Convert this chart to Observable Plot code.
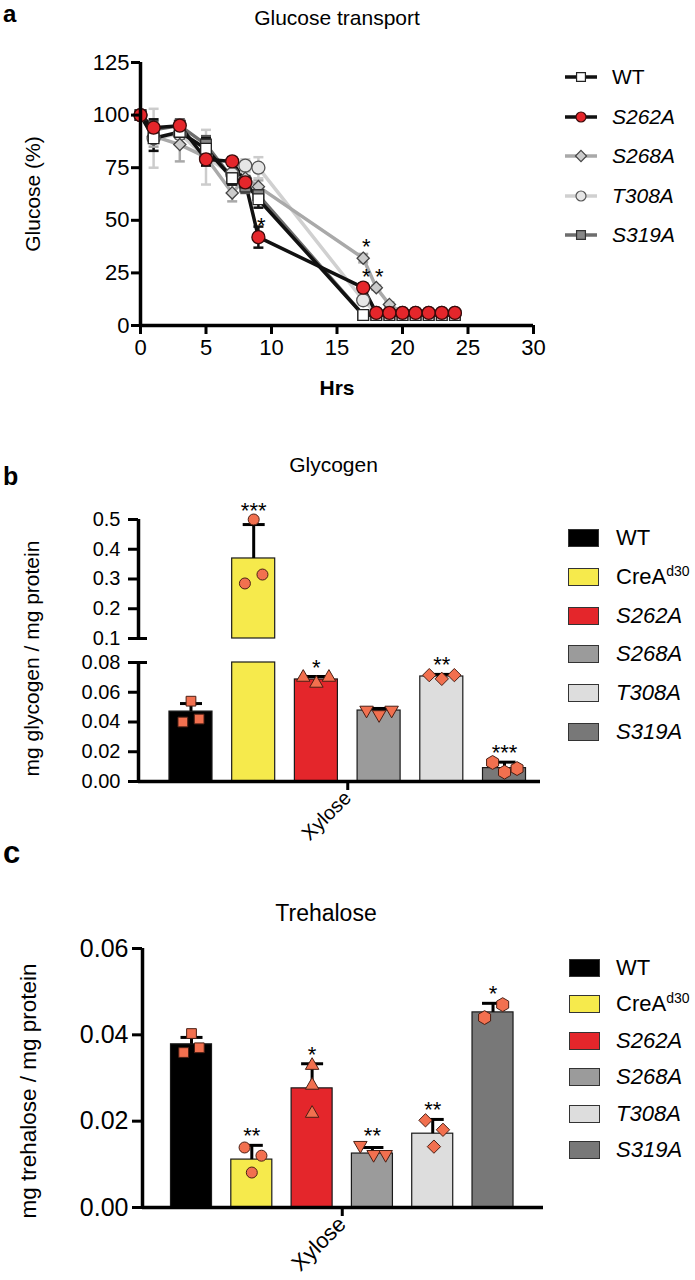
<!DOCTYPE html>
<html><head><meta charset="utf-8">
<script src="https://cdn.jsdelivr.net/npm/d3@7"></script>
<script src="https://cdn.jsdelivr.net/npm/@observablehq/plot@0.6"></script>
<style>
body{margin:0;background:#fff;}
#root{position:relative;width:695px;height:1280px;font-family:"Liberation Sans",Arial,Helvetica,sans-serif;color:#000;overflow:hidden;background:#fff}
.abs{position:absolute;white-space:nowrap;line-height:1.2}
.letter{font-weight:bold}
.legend{position:absolute;z-index:2}
.row{display:flex;align-items:center}
.sw{box-sizing:border-box;border:1.2px solid #333;width:31px;height:18px}
sup{font-size:14px;vertical-align:8px;line-height:0}
</style></head><body><div id="root"></div>
<script>
const FONT = '"Liberation Sans", Arial, Helvetica, sans-serif';

// ---------- Panel a: Glucose transport ----------
const hours = [0, 1, 3, 5, 7, 8, 9, 17, 18, 19, 20, 21, 22, 23, 24];
const wtGlucose    = [100, 89, 92, 84, 70, 68, 60, 5, 5, 5, 5, 5, 5, 5, 5];
const s262aGlucose = [100, 94, 95, 79, 78, 68, 42, 18, 6, 6, 6, 6, 6, 6, 6];
const s268aGlucose = [100, 90, 86, 80, 63, 70, 66, 32, 18, 10, 6, 6, 6, 6, 6];
const t308aGlucose = [100, 89, 91, 80, 72, 76, 75, 12, 6, 6, 6, 6, 6, 6, 6];
const s319aGlucose = [100, 93, 95, 86, 70, 66, 62, 5, 5, 5, 5, 5, 5, 5, 5];
const wtGlucoseErr    = [0, 6, 3, 5, 3, 3, 4, 1, 0, 0, 0, 0, 0, 0, 0];
const s262aGlucoseErr = [0, 4, 2, 3, 2, 3, 5, 2, 1, 0, 0, 0, 0, 0, 0];
const s268aGlucoseErr = [0, 5, 8, 4, 4, 3, 3, 2, 1, 1, 0, 0, 0, 0, 0];
const t308aGlucoseErr = [0, 14, 5, 13, 4, 3, 5, 2, 1, 0, 0, 0, 0, 0, 0];
const s319aGlucoseErr = [0, 4, 3, 4, 3, 3, 4, 1, 0, 0, 0, 0, 0, 0, 0];
const glucoseSeries = ["WT", "S262A", "S268A", "T308A", "S319A"];
const glucoseTicksY = [0, 25, 50, 75, 100, 125];
const glucoseTicksX = [0, 5, 10, 15, 20, 25, 30];
const sigSeriesA = ["S262A", "S268A", "S262A", "S268A"];
const sigHourA = [9, 17, 17, 18];
const sigTextA = ["*", "*", "*", "*"];

// ---------- Panel b: Glycogen ----------
const strains = ["WT", "CreA", "S262A", "S268A", "T308A", "S319A"];
const glycogenMean = [0.047, 0.369, 0.0686, 0.0477, 0.0706, 0.0090];
const glycogenSD   = [0.0054, 0.114, 0.0020, 0.0014, 0.0014, 0.0040];
const glycogenReps = [[0.040, 0.054, 0.042], [0.285, 0.500, 0.315], [0.070, 0.066, 0.070],
                      [0.048, 0.045, 0.048], [0.0715, 0.069, 0.0715], [0.0128, 0.0063, 0.0087]];
const glycogenSig = ["", "***", "*", "", "**", "***"];
const glycogenTicksLow = [0, 0.02, 0.04, 0.06, 0.08];
const glycogenTicksHigh = [0.1, 0.2, 0.3, 0.4, 0.5];
const groupLabel = "Xylose";

// ---------- Panel c: Trehalose ----------
const trehaloseMean = [0.0378, 0.0111, 0.0276, 0.0125, 0.0171, 0.0452];
const trehaloseSD   = [0.0016, 0.0033, 0.0057, 0.0014, 0.0033, 0.0021];
const trehaloseReps = [[0.0359, 0.0403, 0.0370], [0.0139, 0.0081, 0.0120], [0.0329, 0.0283, 0.0218],
                       [0.0144, 0.0123, 0.0123], [0.0202, 0.0141, 0.0180], [0.0440, 0.0470]];
const trehaloseSig = ["", "**", "*", "**", "**", "*"];
const trehaloseTicks = [0, 0.02, 0.04, 0.06];

// ---------- styles ----------
const styleA = {
  WT:    {line: "#111111", fill: "#ffffff", stroke: "#222222", symbol: "square", r: 6, err: "#111111"},
  S262A: {line: "#111111", fill: "#e5262b", stroke: "#3a0a0a", symbol: "circle", r: 6.5, err: "#111111"},
  S268A: {line: "#a9a9a9", fill: "#cbcbcb", stroke: "#444444", symbol: "diamond2", r: 5.5, err: "#a9a9a9"},
  T308A: {line: "#d0d0d0", fill: "#e6e6e6", stroke: "#555555", symbol: "circle", r: 6.5, err: "#cccccc"},
  S319A: {line: "#6d6d6d", fill: "#878787", stroke: "#333333", symbol: "square", r: 6, err: "#555555"}
};
const drawOrderA = ["T308A", "S268A", "S319A", "WT", "S262A"];
const glucose = {WT: wtGlucose, S262A: s262aGlucose, S268A: s268aGlucose, T308A: t308aGlucose, S319A: s319aGlucose};
const glucoseErr = {WT: wtGlucoseErr, S262A: s262aGlucoseErr, S268A: s268aGlucoseErr, T308A: t308aGlucoseErr, S319A: s319aGlucoseErr};

const triangleDown = {draw(ctx, size) {
  const y = -Math.sqrt(size / (Math.sqrt(3) * 3));
  ctx.moveTo(0, -y * 2); ctx.lineTo(-Math.sqrt(3) * y, y); ctx.lineTo(Math.sqrt(3) * y, y); ctx.closePath();
}};
const hline = {draw(ctx, size) { const r = Math.sqrt(size / Math.PI); ctx.moveTo(-r, 0); ctx.lineTo(r, 0); }};
const strainFill = ["#000000", "#f6ea4c", "#e4262b", "#9b9b9b", "#dddddd", "#787878"];
const strainSymbol = ["square", "circle", "triangle", triangleDown, "diamond2", "hexagon"];
const strainR = [5.5, 5.5, 5, 5, 6, 6];
const MARKER_FILL = "#f2704f", MARKER_STROKE = "#4a1f14";
const jitterB = [[-0.13, 0, 0.13], [-0.14, 0, 0.14], [-0.21, 0, 0.2], [-0.2, 0, 0.2], [-0.2, 0, 0.2], [-0.19, 0, 0.2]];
const jitterC = [[-0.13, 0, 0.13], [-0.12, 0, 0.16], [0, 0, 0], [-0.2, 0.02, 0.22], [-0.12, 0.02, 0.17], [-0.14, 0.16]];

const root = document.getElementById("root");
function put(node, top) { node.style.position = "absolute"; node.style.left = "0px"; node.style.top = top + "px"; root.appendChild(node); }
const baseStyle = {fontFamily: FONT, fontSize: "20px", color: "black", background: "transparent", overflow: "visible"};

// ================= Panel a =================
const rowsA = drawOrderA.flatMap(n => hours.map((t, k) => ({series: n, t, v: glucose[n][k], e: glucoseErr[n][k]})));
const sigA = sigSeriesA.map((s, k) => ({t: sigHourA[k], v: glucose[s][hours.indexOf(sigHourA[k])], text: sigTextA[k]}));
const plotA = Plot.plot({
  width: 695, height: 420,
  marginLeft: 140, marginRight: 162, marginTop: 62, marginBottom: 95,
  x: {domain: [0, 30], axis: null},
  y: {domain: [0, 125], axis: null},
  style: baseStyle,
  marks: [
    ...drawOrderA.map(n => Plot.line(rowsA.filter(d => d.series === n), {x: "t", y: "v", stroke: styleA[n].line, strokeWidth: 3.5, strokeLinejoin: "round"})),
    ...drawOrderA.map(n => Plot.ruleX(rowsA.filter(d => d.series === n && d.e > 0), {x: "t", y1: d => d.v - d.e, y2: d => d.v + d.e, stroke: styleA[n].err, strokeWidth: 2.5})),
    ...drawOrderA.map(n => Plot.dot(rowsA.filter(d => d.series === n && d.e > 0), {x: "t", y: d => d.v + d.e, symbol: hline, r: 5, fill: "none", stroke: styleA[n].err, strokeWidth: 2.5})),
    ...drawOrderA.map(n => Plot.dot(rowsA.filter(d => d.series === n && d.e > 0), {x: "t", y: d => d.v - d.e, symbol: hline, r: 5, fill: "none", stroke: styleA[n].err, strokeWidth: 2.5})),
    ...drawOrderA.map(n => Plot.dot(rowsA.filter(d => d.series === n), {x: "t", y: "v", symbol: styleA[n].symbol, r: styleA[n].r, fill: styleA[n].fill, stroke: styleA[n].stroke, strokeWidth: 1.3})),
    Plot.text(sigA, {x: "t", y: "v", text: "text", dx: 3, dy: -11, fontSize: 22, lineAnchor: "middle"}),
    Plot.ruleX([0], {y1: 0, y2: 125, strokeWidth: 3.5}),
    Plot.ruleY([0], {x1: 0, x2: 30, strokeWidth: 3.5}),
    Plot.axisY({ticks: glucoseTicksY, tickSize: 9, tickPadding: 2, fontSize: 22, strokeWidth: 3, label: null}),
    Plot.axisX({ticks: glucoseTicksX, tickSize: 9, tickPadding: 5, fontSize: 22, strokeWidth: 3, label: null}),
    Plot.text(["Glucose (%)"], {frameAnchor: "left", rotate: -90, dx: -107, fontSize: 21, textAnchor: "middle", lineAnchor: "middle"}),
    Plot.text(["Hrs"], {frameAnchor: "bottom", dy: 63, fontSize: 21, fontWeight: "bold", textAnchor: "middle", lineAnchor: "middle"}),
    Plot.text(["Glucose transport"], {frameAnchor: "top", dy: -44, fontSize: 21, textAnchor: "middle", lineAnchor: "middle"})
  ]
});
put(plotA, 0);

// ================= bar panels =================
function barPanel(cfg) {
  const bars = strains.map((s, i) => ({i, strain: s, mean: cfg.mean[i], sd: cfg.sd[i], sig: cfg.sig[i], fill: strainFill[i],
    top: Math.max(cfg.mean[i] + cfg.sd[i], ...cfg.reps[i])}));
  const reps = strains.flatMap((s, i) => cfg.reps[i].map((v, k) => ({i, v, off: cfg.jitter[i][k]})));
  const H = cfg.half;
  const lowTop = cfg.breakLo ?? Infinity;
  const marks = [
    Plot.rect(bars, {x1: d => d.i - H, x2: d => d.i + H, y1: 0, y2: d => Math.min(d.mean, lowTop), fill: "fill", stroke: "#1a1a1a", strokeWidth: 1.2}),
  ];
  if (cfg.breakHi != null) marks.push(Plot.rect(bars.filter(d => d.mean > cfg.breakHi), {x1: d => d.i - H, x2: d => d.i + H, y1: cfg.breakHi, y2: "mean", fill: "fill", stroke: "#1a1a1a", strokeWidth: 1.2}));
  marks.push(
    Plot.ruleX(bars, {x: "i", y1: "mean", y2: d => d.mean + d.sd, stroke: "black", strokeWidth: 3}),
    Plot.dot(bars, {x: "i", y: d => d.mean + d.sd, symbol: hline, r: 11, fill: "none", stroke: "black", strokeWidth: 3}),
    ...strains.map((s, i) => Plot.dot(reps.filter(d => d.i === i), {x: d => d.i + d.off, y: "v", symbol: strainSymbol[i], r: strainR[i], fill: MARKER_FILL, stroke: MARKER_STROKE, strokeWidth: 1})),
    Plot.text(bars.filter(d => d.sig), {x: "i", y: "top", text: "sig", dy: -9, fontSize: 22, lineAnchor: "middle"})
  );
  const xd = cfg.xDomain;
  if (cfg.breakLo != null) {
    marks.push(
      Plot.ruleX([xd[0]], {y1: 0, y2: cfg.breakLo, strokeWidth: 3.5}),
      Plot.ruleX([xd[0]], {y1: cfg.breakHi, y2: cfg.yMax, strokeWidth: 3.5}),
      Plot.axisY({ticks: [cfg.breakLo, cfg.breakHi], tickSize: -9, fill: "none", strokeWidth: 3, label: null})
    );
  } else {
    marks.push(Plot.ruleX([xd[0]], {y1: 0, y2: cfg.yMax, strokeWidth: 3.5}));
  }
  marks.push(
    Plot.ruleY([0], {x1: xd[0], x2: xd[1], strokeWidth: 3.5}),
    ...cfg.tickSets.map(ts => Plot.axisY({ticks: ts.ticks, tickFormat: d3.format(ts.fmt), tickSize: 10, tickPadding: cfg.tickPadding, fontSize: cfg.tickFont, strokeWidth: 3, label: null})),
    Plot.axisX({ticks: [(strains.length - 1) / 2], tickFormat: () => groupLabel, tickRotate: -45, tickSize: 9, tickPadding: 4, fontSize: cfg.xFont, strokeWidth: 3, label: null}),
    Plot.text([cfg.yLabel], {frameAnchor: "left", rotate: -90, dx: cfg.yLabelDx, dy: cfg.yLabelDy, fontSize: cfg.yLabelFont, textAnchor: "middle", lineAnchor: "middle"}),
    Plot.text([cfg.title], {frameAnchor: "top", dx: cfg.titleDx, dy: cfg.titleDy, fontSize: cfg.titleFont, textAnchor: "middle", lineAnchor: "middle"})
  );
  return Plot.plot({
    width: 695, height: cfg.height,
    marginLeft: cfg.margin[0], marginRight: cfg.margin[1], marginTop: cfg.margin[2], marginBottom: cfg.margin[3],
    x: {domain: xd, axis: null},
    y: {type: "linear", domain: cfg.yDomain, range: cfg.yRange, axis: null},
    color: {type: "identity"},
    style: baseStyle,
    marks
  });
}

const plotB = barPanel({
  mean: glycogenMean, sd: glycogenSD, reps: glycogenReps, sig: glycogenSig, jitter: jitterB, half: 0.343,
  breakLo: 0.08, breakHi: 0.1, yMax: 0.5,
  xDomain: [-0.837, 5.574], yDomain: [0, 0.08, 0.1, 0.5], yRange: [361, 242, 218, 99],
  height: 420, margin: [138, 155, 99, 59],
  tickSets: [{ticks: glycogenTicksLow, fmt: ".2f"}, {ticks: glycogenTicksHigh, fmt: ".1f"}],
  tickPadding: 8, tickFont: 20, xFont: 20,
  yLabel: "mg glycogen / mg protein", yLabelDx: -106, yLabelDy: 8, yLabelFont: 21,
  title: "Glycogen", titleDx: -6, titleDy: -54, titleFont: 21
});
put(plotB, 420);

const plotC = barPanel({
  mean: trehaloseMean, sd: trehaloseSD, reps: trehaloseReps, sig: trehaloseSig, jitter: jitterC, half: 0.34,
  breakLo: null, breakHi: null, yMax: 0.06,
  xDomain: [-0.8126, 5.837], yDomain: [0, 0.06], yRange: [367, 108],
  height: 440, margin: [142, 152, 108, 73],
  tickSets: [{ticks: trehaloseTicks, fmt: ".2f"}],
  tickPadding: 4, tickFont: 25, xFont: 22,
  yLabel: "mg trehalose / mg protein", yLabelDx: -114, yLabelDy: 13, yLabelFont: 22.5,
  title: "Trehalose", titleDx: -17, titleDy: -35, titleFont: 23
});
put(plotC, 840);

// ================= letters =================
function letter(txt, left, top, size) {
  const d = document.createElement("div"); d.className = "abs letter"; d.textContent = txt;
  d.style.left = left + "px"; d.style.top = top + "px"; d.style.fontSize = size + "px"; root.appendChild(d);
}
letter("a", 3, 0, 24); letter("b", 3, 461, 25); letter("c", 3, 834, 31);

// ================= legends =================
const symbolFor = {square: d3.symbolSquare, circle: d3.symbolCircle, diamond2: d3.symbolDiamond2};
function legendA() {
  const leg = document.createElement("div"); leg.className = "legend"; leg.style.left = "563px"; leg.style.top = "57.25px";
  glucoseSeries.forEach(n => {
    const row = document.createElement("div"); row.className = "row"; row.style.height = "39.5px";
    const s = styleA[n];
    const svg = d3.create("svg").attr("width", 36).attr("height", 20);
    svg.append("line").attr("x1", 2).attr("x2", 34).attr("y1", 10).attr("y2", 10).attr("stroke", s.line).attr("stroke-width", 3.5);
    svg.append("path").attr("transform", "translate(18,10)").attr("d", d3.symbol(symbolFor[s.symbol], Math.PI * 25)())
      .attr("fill", s.fill).attr("stroke", s.stroke).attr("stroke-width", 1.2);
    row.append(svg.node());
    const lab = document.createElement("span"); lab.textContent = n; lab.style.marginLeft = "13px"; lab.style.fontSize = "21px";
    if (n !== "WT") lab.style.fontStyle = "italic";
    row.append(lab); leg.append(row);
  });
  root.appendChild(leg);
}
function legendBar(left, top, step, gap) {
  const leg = document.createElement("div"); leg.className = "legend"; leg.style.left = left + "px"; leg.style.top = top + "px";
  strains.forEach((n, i) => {
    const row = document.createElement("div"); row.className = "row"; row.style.height = step + "px";
    const sw = document.createElement("div"); sw.className = "sw"; sw.style.background = strainFill[i];
    row.append(sw);
    const lab = document.createElement("span"); lab.style.marginLeft = gap + "px"; lab.style.fontSize = "22px";
    if (n === "CreA") lab.innerHTML = "CreA<sup>d30</sup>";
    else { lab.textContent = n; if (n !== "WT") lab.style.fontStyle = "italic"; }
    row.append(lab); leg.append(row);
  });
  root.appendChild(leg);
}
legendA();
legendBar(568, 518.6, 38.8, 17);
legendBar(569, 949.8, 36.4, 16);
</script></body></html>
